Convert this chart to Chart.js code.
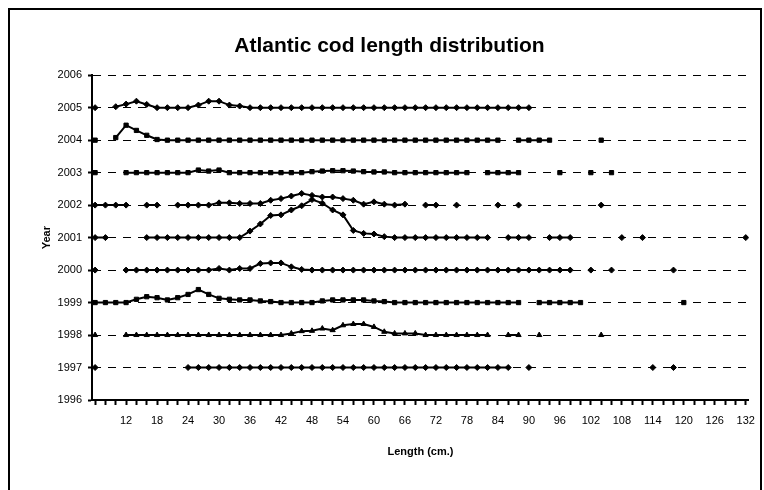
<!DOCTYPE html>
<html>
<head>
<meta charset="utf-8">
<script src="https://cdn.jsdelivr.net/npm/chart.js@4.4.1/dist/chart.umd.min.js"></script>
<style>
  html, body { margin: 0; padding: 0; background: #fff; }
  #wrap { position: relative; width: 764px; height: 490px; }
</style>
</head>
<body>
<div id="wrap"><canvas id="codChart" width="764" height="490"></canvas></div>
<script>
// length classes (cm) on the x axis
const lengths = [6, 8, 10, 12, 14, 16, 18, 20, 22, 24, 26, 28, 30, 32, 34, 36,
                 38, 40, 42, 44, 46, 48, 50, 52, 54, 56, 58, 60, 62, 64, 66, 68,
                 70, 72, 74, 76, 78, 80, 82, 84, 86, 88, 90, 92, 94, 96, 98, 100,
                 102, 104, 106, 108, 110, 112, 114, 116, 118, 120, 122, 124, 126, 128, 130, 132];

const years = [2005, 2004, 2003, 2002, 2001, 2000, 1999, 1998, 1997];

// height of each year's curve above its baseline (null = no fish in that class)
const _ = null;
const off2005 = [0, _, 0.03, 0.11, 0.2, 0.1, 0, 0,
                 0, 0, 0.08, 0.2, 0.2, 0.08, 0.05, 0,
                 0, 0, 0, 0, 0, 0, 0, 0,
                 0, 0, 0, 0, 0, 0, 0, 0,
                 0, 0, 0, 0, 0, 0, 0, 0,
                 0, 0, 0, _, _, _, _, _,
                 _, _, _, _, _, _, _, _,
                 _, _, _, _, _, _, _, _];
const off2004 = [0, _, 0.08, 0.46, 0.3, 0.15, 0.02, 0,
                 0, 0, 0, 0, 0, 0, 0, 0,
                 0, 0, 0, 0, 0, 0, 0, 0,
                 0, 0, 0, 0, 0, 0, 0, 0,
                 0, 0, 0, 0, 0, 0, 0, 0,
                 _, 0, 0, 0, 0, _, _, _,
                 _, 0, _, _, _, _, _, _,
                 _, _, _, _, _, _, _, _];
const off2003 = [0, _, _, 0, 0, 0, 0, 0,
                 0, 0, 0.08, 0.05, 0.08, 0, 0, 0,
                 0, 0, 0, 0, 0, 0.03, 0.05, 0.06,
                 0.06, 0.05, 0.03, 0.02, 0.02, 0, 0, 0,
                 0, 0, 0, 0, 0, _, 0, 0,
                 0, 0, _, _, _, 0, _, _,
                 0, _, 0, _, _, _, _, _,
                 _, _, _, _, _, _, _, _];
const off2002 = [0, 0, 0, 0, _, 0, 0, _,
                 0, 0, 0, 0, 0.07, 0.07, 0.05, 0.05,
                 0.05, 0.15, 0.2, 0.28, 0.36, 0.3, 0.25, 0.25,
                 0.2, 0.15, 0.03, 0.1, 0.03, 0, 0.03, _,
                 0, 0, _, 0, _, _, _, 0,
                 _, 0, _, _, _, _, _, _,
                 _, 0, _, _, _, _, _, _,
                 _, _, _, _, _, _, _, _];
const off2001 = [0, 0, _, _, _, 0, 0, 0,
                 0, 0, 0, 0, 0, 0, 0, 0.2,
                 0.42, 0.68, 0.7, 0.85, 0.98, 1.17, 1.06, 0.85,
                 0.7, 0.22, 0.13, 0.11, 0.03, 0, 0, 0,
                 0, 0, 0, 0, 0, 0, 0, _,
                 0, 0, 0, _, 0, 0, 0, _,
                 _, _, _, 0, _, 0, _, _,
                 _, _, _, _, _, _, _, 0];
const off2000 = [0, _, _, 0, 0, 0, 0, 0,
                 0, 0, 0, 0, 0.05, 0, 0.05, 0.05,
                 0.2, 0.22, 0.22, 0.1, 0.02, 0, 0, 0,
                 0, 0, 0, 0, 0, 0, 0, 0,
                 0, 0, 0, 0, 0, 0, 0, 0,
                 0, 0, 0, 0, 0, 0, 0, _,
                 0, _, 0, _, _, _, _, _,
                 0, _, _, _, _, _, _, _];
const off1999 = [0, 0, 0, 0, 0.1, 0.18, 0.15, 0.08,
                 0.15, 0.25, 0.4, 0.25, 0.13, 0.1, 0.08, 0.08,
                 0.05, 0.03, 0, 0, 0, 0, 0.05, 0.08,
                 0.08, 0.08, 0.08, 0.05, 0.03, 0, 0, 0,
                 0, 0, 0, 0, 0, 0, 0, 0,
                 0, 0, _, 0, 0, 0, 0, 0,
                 _, _, _, _, _, _, _, _,
                 _, 0, _, _, _, _, _, _];
const off1998 = [0, _, _, 0, 0, 0, 0, 0,
                 0, 0, 0, 0, 0, 0, 0, 0,
                 0, 0, 0, 0.05, 0.12, 0.13, 0.2, 0.15,
                 0.3, 0.34, 0.34, 0.25, 0.1, 0.05, 0.05, 0.05,
                 0, 0, 0, 0, 0, 0, 0, _,
                 0, 0, _, 0, _, _, _, _,
                 _, 0, _, _, _, _, _, _,
                 _, _, _, _, _, _, _, _];
const off1997 = [0, _, _, _, _, _, _, _,
                 _, 0, 0, 0, 0, 0, 0, 0,
                 0, 0, 0, 0, 0, 0, 0, 0,
                 0, 0, 0, 0, 0, 0, 0, 0,
                 0, 0, 0, 0, 0, 0, 0, 0,
                 0, _, 0, _, _, _, _, _,
                 _, _, _, _, _, _, 0, _,
                 0, _, _, _, _, _, _, _];

const offsets = [off2005, off2004, off2003, off2002, off2001, off2000, off1999, off1998, off1997];
const markers = ["rectRot", "rect", "rect", "rectRot", "rectRot", "rectRot", "rect", "triangle", "rectRot"];

Chart.defaults.font.family = "'Liberation Sans', Arial, sans-serif";
Chart.defaults.color = "#000";

// white page with the thin black frame round the whole chart
const frame = {
  id: "frame",
  beforeDraw(chart) {
    const c = chart.ctx;
    c.save();
    c.fillStyle = "#fff";
    c.fillRect(0, 0, chart.width, chart.height);
    c.lineWidth = 2;
    c.strokeStyle = "#000";
    c.strokeRect(9, 9, 752, 500);
    c.restore();
  }
};

const ctx = document.getElementById("codChart");

new Chart(ctx, {
  type: "line",
  data: {
    datasets: years.map((year, k) => ({
      label: String(year),
      data: lengths.map((len, i) => ({ x: len, y: offsets[k][i] === null ? null : year + offsets[k][i] })),
      borderColor: "#000",
      backgroundColor: "#000",
      borderWidth: 2,
      pointStyle: markers[k],
      pointRadius: 3,
      pointBorderWidth: 1,
      pointHoverRadius: 3,
      tension: 0,
      spanGaps: false
    }))
  },
  options: {
    responsive: false,
    animation: false,
    events: [],
    layout: { padding: { left: 24, right: 9, top: 0, bottom: 0 } },
    plugins: {
      legend: { display: false },
      tooltip: { enabled: false },
      title: {
        display: true,
        text: "Atlantic cod length distribution",
        color: "#000",
        font: { size: 21, weight: "bold" },
        padding: { top: 34, bottom: 16 }
      }
    },
    scales: {
      x: {
        type: "linear",
        min: 5.4,
        max: 132.6,
        afterBuildTicks: s => { s.ticks = lengths.map(v => ({ value: v })); },
        afterFit: s => { s.height = 90; },
        ticks: {
          autoSkip: false,
          maxRotation: 0,
          padding: 9,
          color: "#000",
          font: { size: 11 },
          callback: v => (v >= 12 && v % 6 === 0 ? String(v) : "")
        },
        grid: { drawOnChartArea: false, drawTicks: true, tickLength: 5, tickColor: "#000", tickWidth: 2 },
        border: { display: true, color: "#000", width: 2 },
        title: {
          display: true,
          text: "Length (cm.)",
          color: "#000",
          font: { size: 11, weight: "bold" },
          padding: { top: 0, bottom: 31 }
        }
      },
      y: {
        min: 1996,
        max: 2006,
        afterFit: s => { s.width = 68; },
        ticks: { stepSize: 1, padding: 6, color: "#000", font: { size: 11 }, callback: v => String(v) },
        grid: { color: "#000", lineWidth: 1, tickLength: 4, tickColor: "#000", tickWidth: 2 },
        border: { display: true, color: "#000", width: 2, dash: [8, 7] },
        title: {
          display: true,
          text: "Year",
          color: "#000",
          font: { size: 11, weight: "bold" },
          padding: { top: 16, bottom: 0 }
        }
      }
    }
  },
  plugins: [frame]
});
</script>
</body>
</html>
